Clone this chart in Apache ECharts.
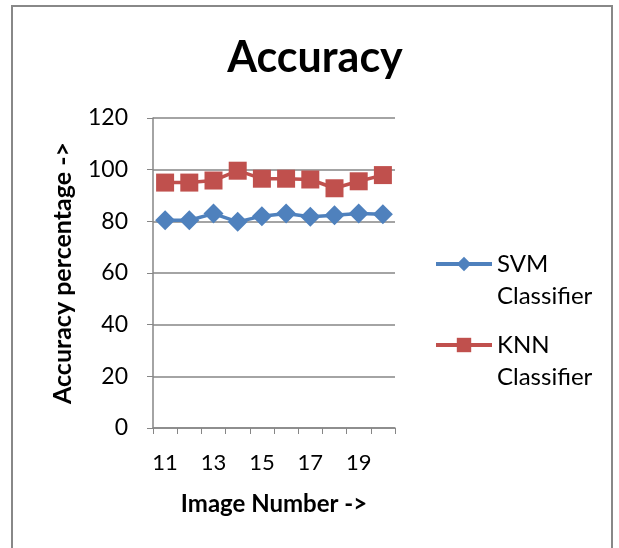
<!DOCTYPE html>
<html><head><meta charset="utf-8">
<script src="https://cdn.jsdelivr.net/npm/echarts@6/dist/echarts.min.js"></script>
<style>html,body{margin:0;padding:0;background:#fff}#c{width:619px;height:548px}</style>
</head><body><div id="c"></div>
<script>
const categories = ['11','12','13','14','15','16','17','18','19','20'];
const svmValues = [80.4, 80.4, 83, 79.8, 82, 83, 81.8, 82.4, 83, 82.7];
const knnValues = [95, 95, 95.8, 99.6, 96.5, 96.5, 96.2, 92.8, 95.5, 97.9];
const yTicks = {min: 0, max: 120, interval: 20};
const font = 'Lato, "Open Sans", sans-serif';
const chart = echarts.init(document.getElementById('c'));
chart.setOption({
  animation: false,
  title: {text: 'Accuracy', left: 310, top: 32, textAlign: 'center',
    textStyle: {fontFamily: font, fontSize: 43, fontWeight: 'bold', color: '#000'}},
  graphic: [{type: 'rect', shape: {x: 12, y: 6, width: 600, height: 560},
    style: {fill: 'none', stroke: '#888', lineWidth: 2}}],
  grid: {left: 153, right: 224, top: 118, bottom: 120},
  legend: {orient: 'vertical', left: 429, top: 211, itemWidth: 56, itemHeight: 18, itemGap: -15,
    lineStyle: {width: 4},
    textStyle: {fontFamily: font, fontSize: 24, color: '#000', lineHeight: 32},
    formatter: n => ' \n' + n.replace(' ', '\n')},
  xAxis: {type: 'category', data: categories, boundaryGap: true,
    name: 'Image Number ->', nameLocation: 'middle', nameGap: 64,
    nameTextStyle: {fontFamily: font, fontSize: 24, fontWeight: 'bold', color: '#000'},
    axisLine: {lineStyle: {color: '#868686', width: 1.5}},
    axisTick: {show: true, interval: 0, length: 6, lineStyle: {color: '#868686'}},
    axisLabel: {interval: 1, fontFamily: font, fontSize: 22, color: '#000', margin: 24}},
  yAxis: {type: 'value', min: yTicks.min, max: yTicks.max, interval: yTicks.interval,
    name: 'Accuracy percentage ->', nameLocation: 'middle', nameGap: 78, nameRotate: 90,
    nameTextStyle: {fontFamily: font, fontSize: 25, fontWeight: 'bold', color: '#000'},
    axisLine: {show: true, lineStyle: {color: '#868686', width: 1.5}},
    axisTick: {show: true, length: 6, lineStyle: {color: '#868686'}},
    splitLine: {lineStyle: {color: '#868686', width: 1.5}},
    axisLabel: {fontFamily: font, fontSize: 23, color: '#000', margin: 25}},
  series: [
    {name: 'SVM Classifier', type: 'line', data: svmValues, symbol: 'diamond', symbolSize: 20, showAllSymbol: true,
      lineStyle: {color: '#4F81BD', width: 3.5}, itemStyle: {color: '#4F81BD'}},
    {name: 'KNN Classifier', type: 'line', data: knnValues, symbol: 'rect', symbolSize: 18, showAllSymbol: true,
      lineStyle: {color: '#C0504D', width: 3.5}, itemStyle: {color: '#C0504D'}}
  ]
});
</script></body></html>
